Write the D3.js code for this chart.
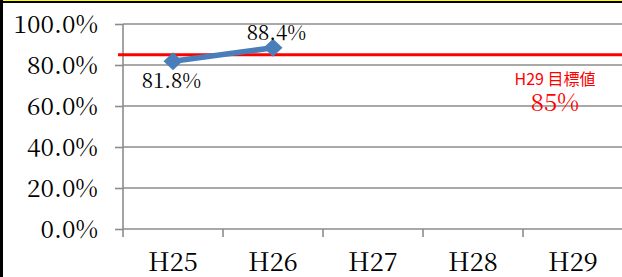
<!DOCTYPE html>
<html><head><meta charset="utf-8">
<script src="https://cdn.jsdelivr.net/npm/d3@7"></script>
<style>html,body{margin:0;padding:0;background:#fff;overflow:hidden}</style>
</head><body>
<script>
const categories = ["H25","H26","H27","H28","H29"];
const values = [0.818, 0.884, null, null, null];
const yTicks = [0, 0.2, 0.4, 0.6, 0.8, 1.0];
const targetValue = 0.85;
const targetLabel = "H29 目標値";
const targetValueLabel = "85%";

const W = 622, H = 277;
const SERIF = '"Noto Serif CJK JP", "Liberation Serif", serif';
const SANS = '"Noto Sans CJK JP", "Noto Sans", sans-serif';
const svg = d3.select("body").append("svg").attr("width", W).attr("height", H);
svg.append("rect").attr("width", W).attr("height", H).attr("fill", "#fff");

const mLeft = 123, mRight = 623, mTop = 24, mBottom = 229;
const x = d3.scaleBand().domain(categories).range([mLeft, mRight]);
const y = d3.scaleLinear().domain([0, 1]).range([mBottom, mTop]);
const GRID = "#8c8c8c";

// gridlines
svg.append("g").selectAll("line").data(yTicks.filter(d => d > 0)).join("line")
  .attr("x1", mLeft).attr("x2", W).attr("y1", d => y(d)).attr("y2", d => y(d))
  .attr("stroke", GRID).attr("stroke-width", 1.6);

// y axis
const yAxis = d3.axisLeft(y).tickValues(yTicks).tickFormat(d3.format(".1%")).tickSize(8).tickPadding(17);
const gy = svg.append("g").attr("transform", `translate(${mLeft},0)`).call(yAxis);
gy.attr("font-family", null).attr("font-size", null);
gy.select(".domain").attr("stroke", GRID).attr("stroke-width", 1.6).attr("d", `M0,${mTop}V${mBottom}`);
gy.selectAll(".tick line").attr("stroke", GRID).attr("stroke-width", 1.6);
gy.selectAll(".tick text").style("font-family", SERIF).style("font-size", "24.5px")
  .attr("dy", "0.36em").attr("fill", "#000");

// x axis
const xAxis = d3.axisBottom(x).tickSize(0).tickPadding(0);
const gx = svg.append("g").attr("transform", `translate(0,${mBottom})`).call(xAxis);
gx.attr("font-family", null).attr("font-size", null);
gx.select(".domain").attr("stroke", GRID).attr("stroke-width", 1.6).attr("d", `M${mLeft},0H${W}`);
gx.selectAll(".tick text").style("font-family", SERIF).style("font-size", "25.5px")
  .attr("y", 42).attr("dy", 0).attr("fill", "#000");
svg.append("g").selectAll("line").data(categories).join("line")
  .attr("x1", d => x(d)).attr("x2", d => x(d)).attr("y1", mBottom).attr("y2", mBottom + 8)
  .attr("stroke", GRID).attr("stroke-width", 1.6);

// target line
svg.append("line").attr("x1", 118).attr("x2", W).attr("y1", y(targetValue)).attr("y2", y(targetValue))
  .attr("stroke", "#ff0000").attr("stroke-width", 3);

// series
const pts = categories.map((c, i) => ({c, v: values[i]})).filter(d => d.v != null);
const cx = d => x(d.c) + x.bandwidth() / 2;
svg.append("path").datum(pts)
  .attr("d", d3.line().x(cx).y(d => y(d.v)))
  .attr("fill", "none").attr("stroke", "#4a7ebb").attr("stroke-width", 5.5);
svg.append("g").selectAll("path").data(pts).join("path")
  .attr("transform", d => `translate(${cx(d)},${y(d.v)})`)
  .attr("d", "M-9.5,0L0,-9L9.5,0L0,9Z").attr("fill", "#4a7ebb");

// data labels
svg.append("g").selectAll("text").data(pts).join("text")
  .attr("x", (d, i) => i === 0 ? cx(d) - 1.5 : cx(d) + 3.5)
  .attr("y", (d, i) => i === 0 ? y(d.v) + 27 : y(d.v) - 8)
  .attr("text-anchor", "middle")
  .style("font-family", SERIF).style("font-size", "20.5px").attr("fill", "#000")
  .text(d => d3.format(".1%")(d.v));

// target annotation
const tx = x("H29") + x.bandwidth() / 2 - 18;
svg.append("text").attr("x", tx).attr("y", 85).attr("text-anchor", "middle")
  .style("font-family", SANS).style("font-size", "16px").attr("fill", "#ff0000").text(targetLabel);
svg.append("text").attr("x", tx).attr("y", 111).attr("text-anchor", "middle")
  .style("font-family", SERIF).style("font-size", "24px").attr("fill", "#ff0000").text(targetValueLabel);

// border
svg.append("line").attr("x1", 0).attr("x2", W).attr("y1", 0.5).attr("y2", 0.5).attr("stroke", "#ffff00").attr("stroke-width", 1);
svg.append("line").attr("x1", 0).attr("x2", W).attr("y1", 2).attr("y2", 2).attr("stroke", "#000").attr("stroke-width", 2);
svg.append("line").attr("x1", 1.5).attr("x2", 1.5).attr("y1", 0).attr("y2", H).attr("stroke", "#000").attr("stroke-width", 3);
</script>
</body></html>
